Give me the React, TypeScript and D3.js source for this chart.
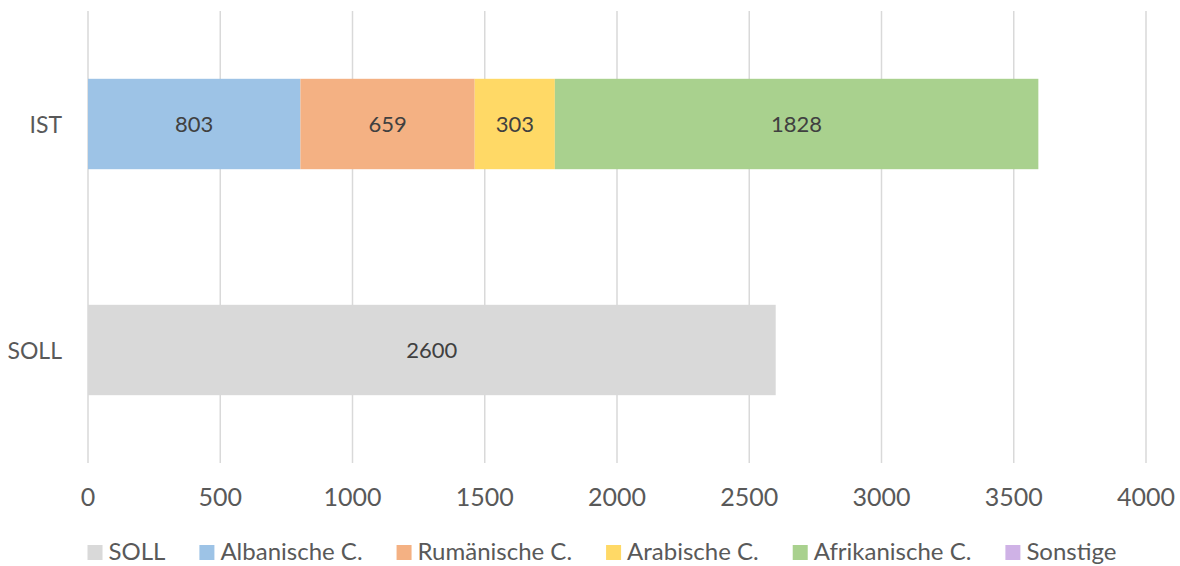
import { useEffect, useRef } from "react";
import * as d3 from "d3";

const categories = ["IST", "SOLL"];
const seriesNames = ["SOLL", "Albanische C.", "Rumänische C.", "Arabische C.", "Afrikanische C.", "Sonstige"];
const seriesColors = ["#d9d9d9", "#9dc3e6", "#f4b183", "#ffd966", "#a9d18e", "#cfb2e6"];
// values per series, one per category (IST, SOLL)
const sollValues = [0, 2600];
const albanischeValues = [803, 0];
const rumaenischeValues = [659, 0];
const arabischeValues = [303, 0];
const afrikanischeValues = [1828, 0];
const sonstigeValues = [0, 0];
const xTicks = [0, 500, 1000, 1500, 2000, 2500, 3000, 3500, 4000];

const W = 1180;
const H = 566;
const FONT = "Lato, 'Open Sans', sans-serif";

export default function App() {
  const svgRef = useRef<SVGSVGElement>(null);

  useEffect(() => {
    document.body.style.margin = "0";
    const svg = d3.select(svgRef.current);
    svg.selectAll("*").remove();

    const margin = { left: 88, right: 34, top: 11, bottom: 103 };
    const x = d3.scaleLinear().domain([0, 4000]).range([margin.left, W - margin.right]);
    const y = d3
      .scaleBand()
      .domain(categories)
      .range([margin.top, H - margin.bottom])
      .paddingInner(0.6)
      .paddingOuter(0.3);

    // gridlines
    svg
      .append("g")
      .selectAll("line")
      .data(xTicks)
      .join("line")
      .attr("x1", (d) => x(d))
      .attr("x2", (d) => x(d))
      .attr("y1", margin.top)
      .attr("y2", H - margin.bottom)
      .attr("stroke", "#d9d9d9")
      .attr("stroke-width", 1.5);

    const allValues = [sollValues, albanischeValues, rumaenischeValues, arabischeValues, afrikanischeValues, sonstigeValues];
    const rows = categories.map((c, i) => {
      const r: any = { cat: c };
      seriesNames.forEach((s, j) => (r[s] = allValues[j][i]));
      return r;
    });
    const stacked = d3.stack().keys(seriesNames)(rows);

    stacked.forEach((layer, j) => {
      const g = svg.append("g");
      layer.forEach((seg: any) => {
        const v = seg[1] - seg[0];
        if (v <= 0) return;
        const cat = seg.data.cat;
        g.append("rect")
          .attr("x", x(seg[0]))
          .attr("y", y(cat)!)
          .attr("width", x(seg[1]) - x(seg[0]))
          .attr("height", y.bandwidth())
          .attr("fill", seriesColors[j]);
        g.append("text")
          .attr("x", (x(seg[0]) + x(seg[1])) / 2)
          .attr("y", y(cat)! + y.bandwidth() / 2 + 8)
          .attr("text-anchor", "middle")
          .attr("font-family", FONT)
          .attr("font-size", 22)
          .attr("fill", "#404040")
          .text(v);
      });
    });

    // category labels
    svg
      .append("g")
      .selectAll("text")
      .data(categories)
      .join("text")
      .attr("x", 62)
      .attr("y", (d) => y(d)! + y.bandwidth() / 2 + 8.5)
      .attr("text-anchor", "end")
      .attr("font-family", FONT)
      .attr("font-size", 23)
      .attr("fill", "#595959")
      .text((d) => d);

    // x tick labels
    svg
      .append("g")
      .selectAll("text")
      .data(xTicks)
      .join("text")
      .attr("x", (d) => x(d))
      .attr("y", 506)
      .attr("text-anchor", "middle")
      .attr("font-family", FONT)
      .attr("font-size", 25)
      .attr("fill", "#595959")
      .text((d) => d);

    // legend
    const legend = svg.append("g");
    const items = seriesNames.map((name, i) => {
      const g = legend.append("g");
      g.append("rect").attr("x", 0).attr("y", 545).attr("width", 15).attr("height", 15).attr("fill", seriesColors[i]);
      const t = g
        .append("text")
        .attr("x", 21)
        .attr("y", 560)
        .attr("font-family", FONT)
        .attr("font-size", 24)
        .attr("fill", "#595959")
        .text(name);
      const w = 21 + (t.node() as SVGTextElement).getComputedTextLength();
      return { g, w };
    });
    const gap = 34;
    const total = d3.sum(items, (d) => d.w) + gap * (items.length - 1);
    let cx = (87 + 1117) / 2 - total / 2;
    items.forEach((it) => {
      it.g.attr("transform", `translate(${cx},0)`);
      cx += it.w + gap;
    });
  }, []);

  return (
    <div>
      <svg ref={svgRef} width={W} height={H} style={{ display: "block", background: "#fff" }} />
    </div>
  );
}
